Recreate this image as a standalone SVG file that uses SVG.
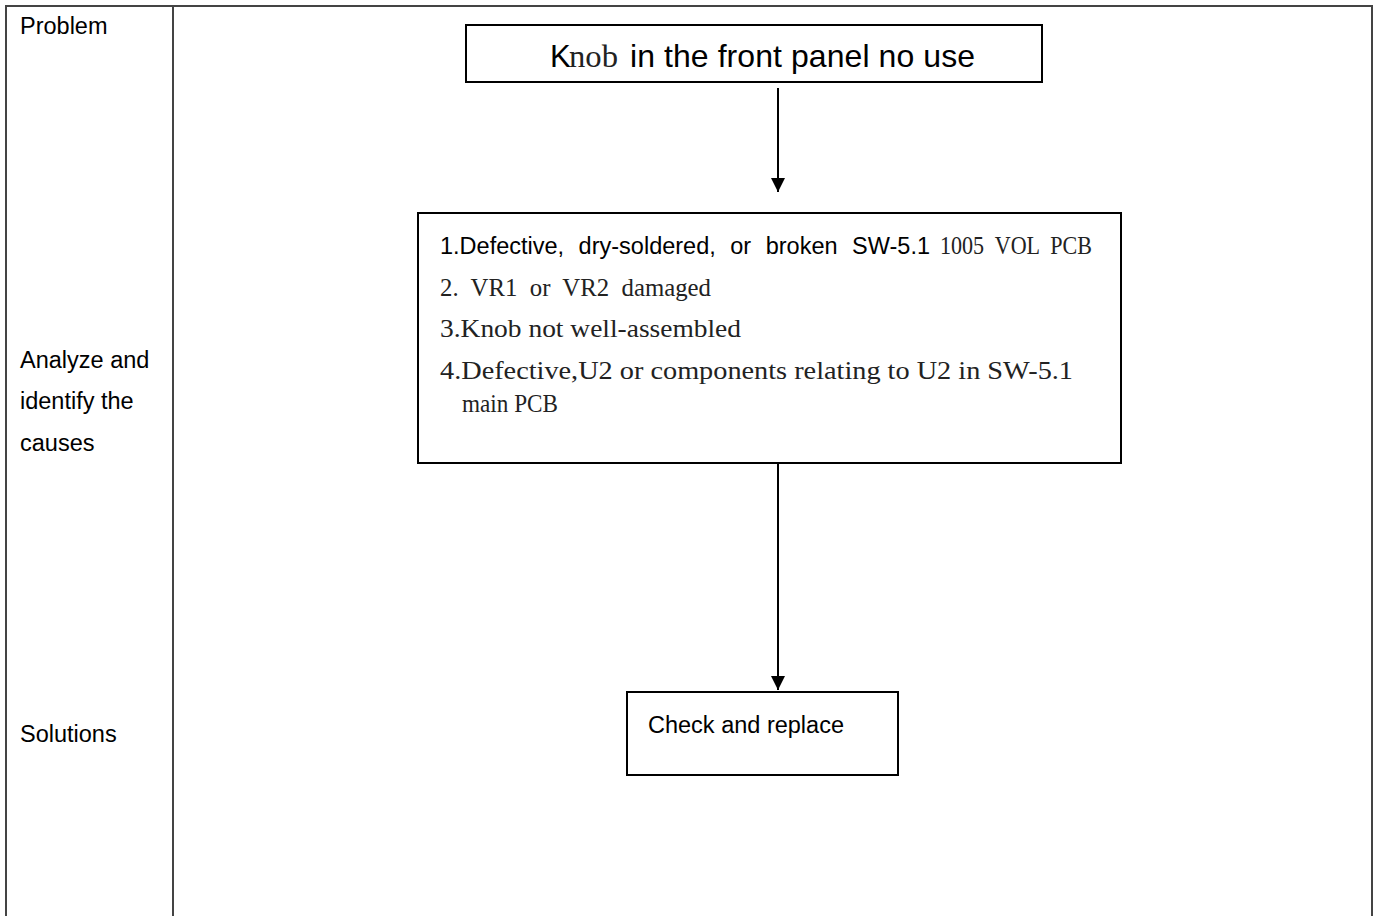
<svg xmlns="http://www.w3.org/2000/svg" width="1375" height="916" viewBox="0 0 1375 916">
<style>
.frame{fill:none;stroke:#444;stroke-width:2}
.box{fill:#fff;stroke:#000;stroke-width:2}
.sans{font-family:"Liberation Sans",Arial,sans-serif;fill:#000}
.serif{font-family:"Liberation Serif","Noto Sans CJK SC",serif;fill:#222;white-space:pre}
.conn{stroke:#000;stroke-width:2;fill:none}
</style>
<defs>
<marker id="arr" viewBox="0 0 10 10" refX="10" refY="5" markerWidth="14" markerHeight="14" markerUnits="userSpaceOnUse" orient="auto">
<path d="M0,0 L10,5 L0,10 z" fill="#000"/>
</marker>
</defs>
<g id="table">
<path class="frame" d="M6,916 V6 H1372 V916"/>
<line class="frame" x1="173" y1="6" x2="173" y2="916"/>
</g>
<g id="labels">
<text class="sans" x="20" y="34" font-size="23.5">Problem</text>
<text class="sans" x="20" y="368" font-size="23.5">Analyze and</text>
<text class="sans" x="20" y="409" font-size="23.5">identify the</text>
<text class="sans" x="20" y="451" font-size="23.5">causes</text>
<text class="sans" x="20" y="742" font-size="23.5">Solutions</text>
</g>
<g id="connectors">
<line class="conn" x1="778" y1="88" x2="778" y2="192" marker-end="url(#arr)"/>
<line class="conn" x1="778" y1="464" x2="778" y2="690" marker-end="url(#arr)"/>
</g>
<g id="node-problem">
<rect class="box" x="466" y="25" width="576" height="57"/>
<text class="sans" x="550" y="67" font-size="31">K</text>
<text class="serif" x="569" y="67" font-size="31" fill="#000" textLength="49" lengthAdjust="spacingAndGlyphs">nob</text>
<text class="sans" x="630" y="67" font-size="32" textLength="345">in the front panel no use</text>
</g>
<g id="node-causes">
<rect class="box" x="418" y="213" width="703" height="250"/>
<text class="sans" x="440" y="254" font-size="23.5" word-spacing="8">1.Defective, dry-soldered, or broken SW-5.1</text>
<text class="serif" x="940" y="254" font-size="26" textLength="152" lengthAdjust="spacingAndGlyphs">1005  VOL  PCB</text>
<text class="serif" x="440" y="296" font-size="26" textLength="271" lengthAdjust="spacingAndGlyphs">2.  VR1  or  VR2  damaged</text>
<text class="serif" x="440" y="337" font-size="26" textLength="301" lengthAdjust="spacingAndGlyphs">3.Knob not well-assembled</text>
<text class="serif" x="440" y="379" font-size="26" textLength="633" lengthAdjust="spacingAndGlyphs">4.Defective,U2 or components relating to U2 in SW-5.1</text>
<text class="serif" x="462" y="412" font-size="26" textLength="96" lengthAdjust="spacingAndGlyphs">main PCB</text>
</g>
<g id="node-solution">
<rect class="box" x="627" y="692" width="271" height="83"/>
<text class="sans" x="648" y="733" font-size="23.5">Check and replace</text>
</g>
</svg>
